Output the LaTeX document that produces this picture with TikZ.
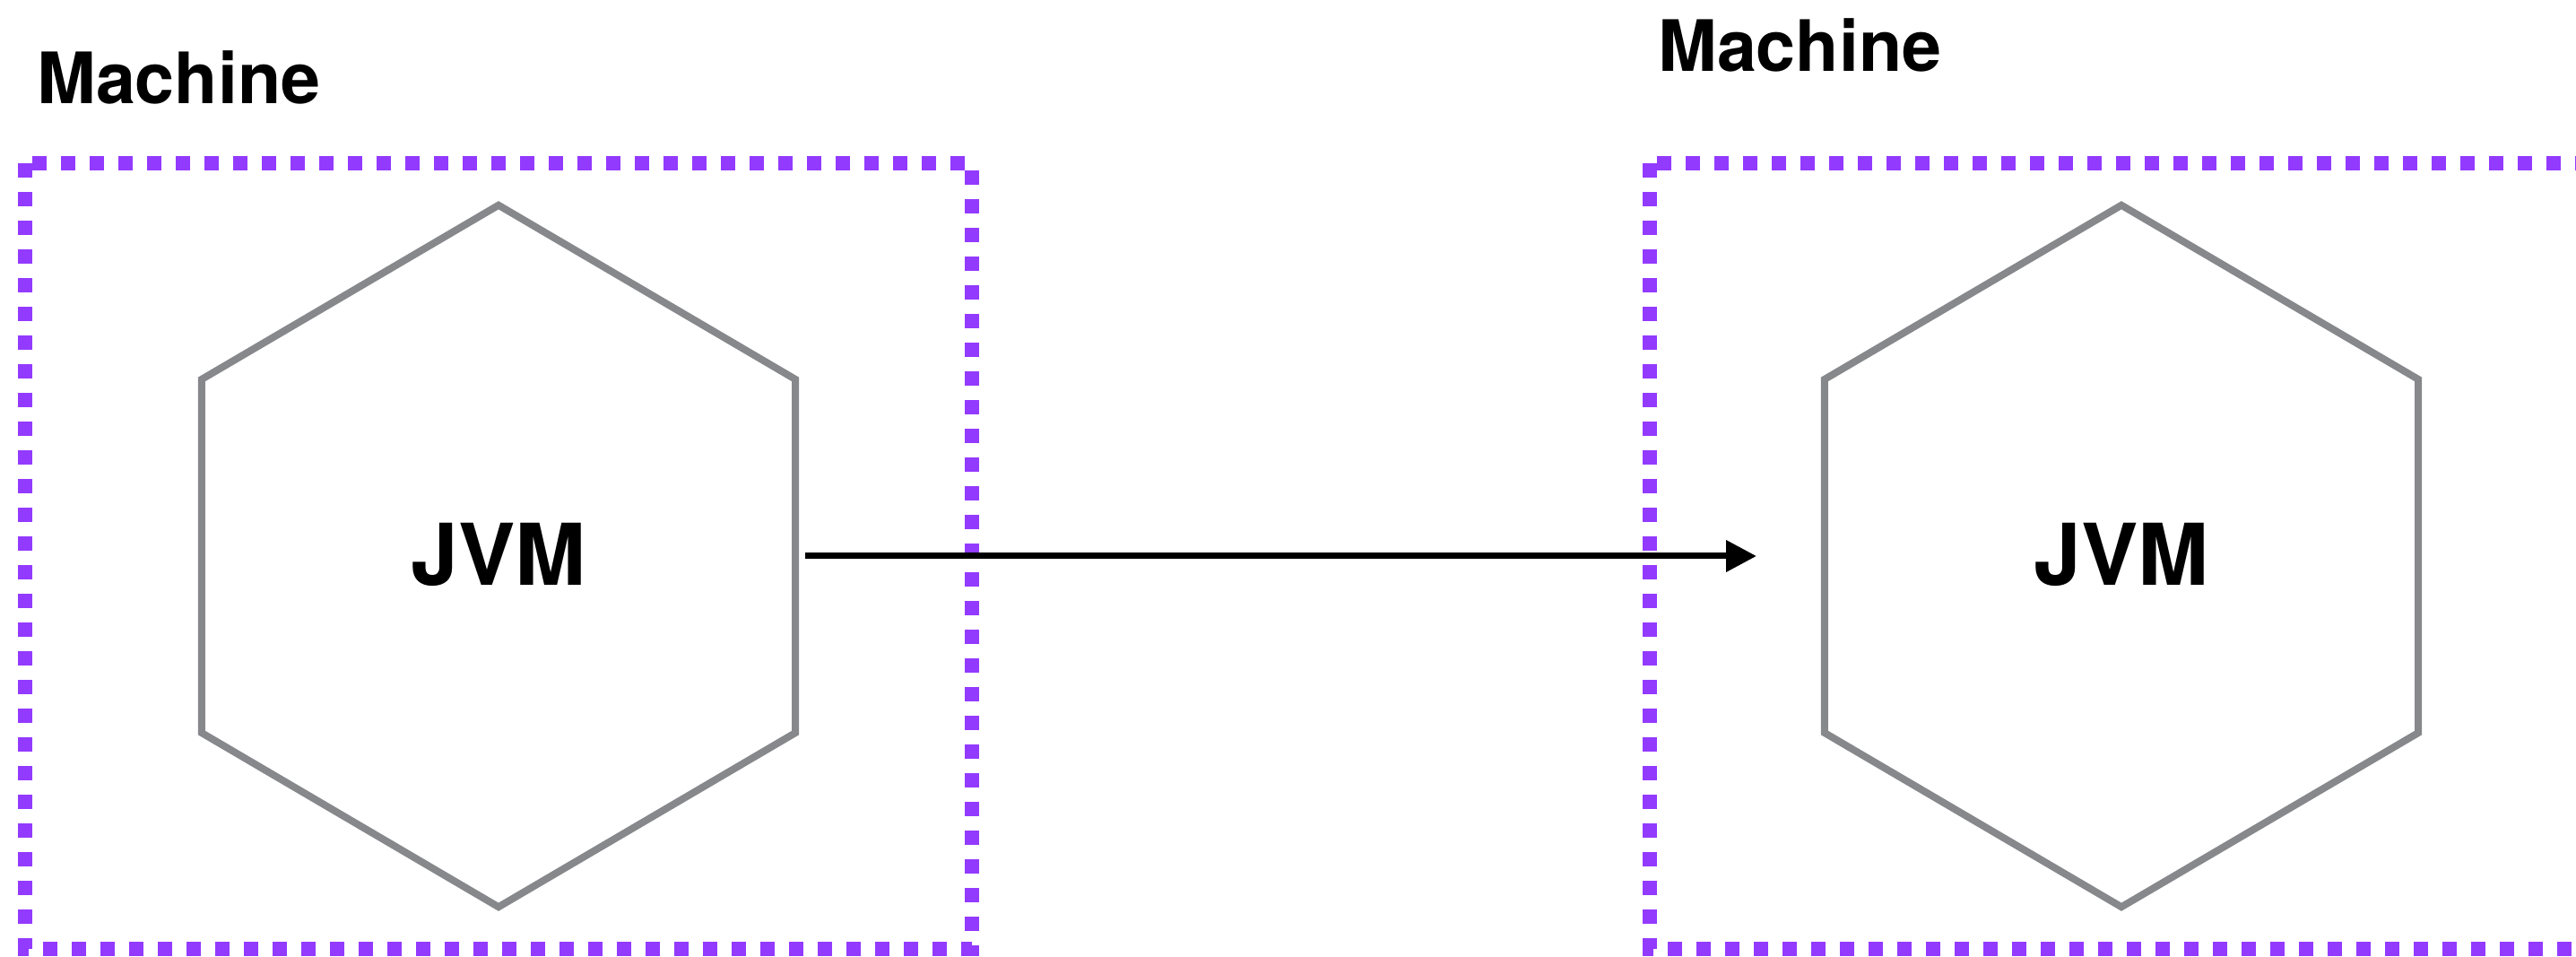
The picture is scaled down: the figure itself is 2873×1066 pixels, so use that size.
\documentclass[tikz,border=0pt]{standalone}
\usepackage{fontspec}
\setmainfont{TeX Gyre Heros}
\usetikzlibrary{arrows.meta,calc}
\definecolor{boxpurple}{RGB}{147,58,255}
\definecolor{hexgray}{RGB}{134,136,139}
\tikzset{
  x=1pt,y=1pt,
  machinebox/.style={draw=boxpurple,line width=16pt,dash pattern=on 16pt off 16pt,line cap=butt},
  hexarea/.style={draw=none,shape=rectangle,minimum width=662pt,minimum height=782pt,inner sep=0pt},
  hexline/.style={draw=hexgray,line width=8pt,line join=miter},
  machinelabel/.style={anchor=base west,inner sep=0pt,font=\bfseries\fontsize{79}{95}\selectfont},
  jvmlabel/.style={anchor=base,inner sep=0pt,font=\bfseries\fontsize{95}{114}\selectfont},
  flow/.style={draw=black,line width=7pt,-{Triangle[length=34pt,width=34pt]}}
}
\begin{document}
\begin{tikzpicture}
\useasboundingbox (0,0) rectangle (2873,1066);
\begin{scope}
\clip (0,0) rectangle (2873,1066);
% machine boxes
\draw[machinebox] (28,884) rectangle (1084,8);
\draw[machinebox] (1840,884) rectangle (2960,8);
\end{scope}
% machine labels
\node[machinelabel] (machL) at (41,950) {Machine};
\node[machinelabel] (machR) at (1849,986) {Machine};
% hexagon areas
\node[hexarea] (hexL) at (556,446) {};
\node[hexarea] (hexR) at (2366,446) {};
\foreach \h in {hexL,hexR}{
  \draw[hexline] (\h.north) -- ($(\h.east)+(0,197)$) -- ($(\h.east)+(0,-197)$)
    -- (\h.south) -- ($(\h.west)+(0,-197)$) -- ($(\h.west)+(0,197)$) -- cycle;
}
% JVM labels
\node[jvmlabel] (jvmL) at (556,413) {JVM};
\node[jvmlabel] (jvmR) at (2366,413) {JVM};
% connector
\coordinate (arrowEnd) at (1959,446);
\draw[flow] ([xshift=11pt]hexL.east) -- (arrowEnd);
\end{tikzpicture}
\end{document}
